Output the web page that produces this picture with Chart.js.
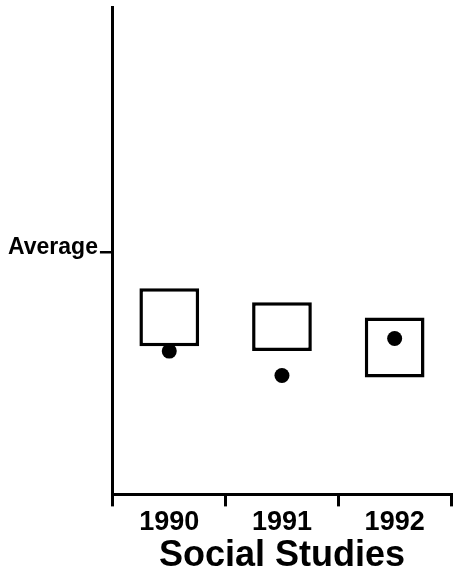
<!DOCTYPE html>
<html>
<head>
<meta charset="utf-8">
<script src="https://cdn.jsdelivr.net/npm/chart.js@4"></script>
<style>
    body { margin: 0; background: #fff; }
    #wrap { width: 454px; height: 580px; }
</style>
</head>
<body>
<div id="wrap"><canvas id="chart" width="454" height="580"></canvas></div>
<script>
// Data (arbitrary vertical units, 0..100)
const years = ['1990', '1991', '1992'];
const boxLow = [30.4, 29.4, 24.0];
const boxHigh = [42.3, 39.4, 36.3];
const dotValues = [29.4, 24.4, 32.0];
const averageValue = 49.7;
const averageLabel = 'Average';
const axisTitle = 'Social Studies';

const ink = '#000';
const font = "'Liberation Sans', Arial, Helvetica, sans-serif";

// floating bars are drawn as open boxes
const boxes = years.map((y, i) => [boxLow[i], boxHigh[i]]);

const ctx = document.getElementById('chart').getContext('2d');

new Chart(ctx, {
    type: 'bar',
    data: {
        labels: years,
        datasets: [{
            type: 'line',
            label: 'dots',
            data: dotValues,
            showLine: false,
            pointRadius: 7.5,
            pointBackgroundColor: ink,
            pointBorderColor: ink,
            pointBorderWidth: 0,
            order: 0
        }, {
            label: 'boxes',
            data: boxes,
            backgroundColor: '#fff',
            borderColor: ink,
            borderWidth: 3.5,
            borderSkipped: false,
            categoryPercentage: 1,
            barPercentage: 0.53,
            order: 1
        }]
    },
    options: {
        responsive: false,
        animation: false,
        layout: { autoPadding: false, padding: { left: 6, right: 3, top: 7, bottom: 2 } },
        plugins: {
            legend: { display: false },
            tooltip: { enabled: false }
        },
        scales: {
            x: {
                offset: true,
                // let the axis run to the right edge, like the original
                afterFit: function(scale) {
                    scale.paddingLeft = 0;
                    scale.paddingRight = 0;
                },
                grid: {
                    offset: true,
                    drawOnChartArea: false,
                    color: ink,
                    lineWidth: 3,
                    tickLength: 12
                },
                border: { display: true, color: ink, width: 3 },
                ticks: {
                    color: ink,
                    padding: 0,
                    font: { family: font, size: 27, weight: 'bold' }
                },
                title: {
                    display: true,
                    text: axisTitle,
                    color: ink,
                    padding: { top: -4, bottom: 0 },
                    font: { family: font, size: 36, weight: 'bold' }
                }
            },
            y: {
                min: 0,
                max: 100,
                afterBuildTicks: function(scale) {
                    scale.ticks = [{ value: averageValue }];
                },
                afterFit: function(scale) {
                    scale.paddingTop = 0;
                    scale.paddingBottom = 0;
                },
                grid: {
                    drawOnChartArea: false,
                    color: ink,
                    lineWidth: 2.5,
                    tickLength: 13
                },
                border: { display: true, color: ink, width: 3 },
                ticks: {
                    color: ink,
                    padding: 2,
                    labelOffset: -5,
                    callback: () => averageLabel,
                    font: { family: font, size: 23, weight: 'bold' }
                }
            }
        }
    }
});
</script>
</body>
</html>
